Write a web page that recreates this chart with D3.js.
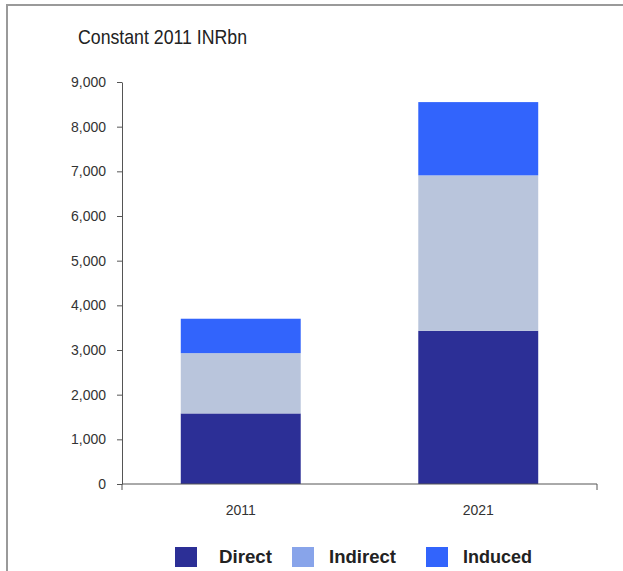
<!DOCTYPE html>
<html>
<head>
<meta charset="utf-8">
<script src="https://cdn.jsdelivr.net/npm/d3@7"></script>
<style>
  html, body { margin: 0; padding: 0; background: #fff; }
  svg { display: block; }
  text { font-family: "Liberation Sans", Arial, sans-serif; }
</style>
</head>
<body>
<script>
// Economic contribution, constant 2011 INR billion
const years = ["2011", "2021"];
const seriesNames = ["Direct", "Indirect", "Induced"];
const direct = [1580, 3430];
const indirect = [1350, 3480];
const induced = [770, 1640];
const yTicks = [0, 1000, 2000, 3000, 4000, 5000, 6000, 7000, 8000, 9000];

const barColors = { Direct: "#2c2f96", Indirect: "#b9c5dc", Induced: "#3264fc" };
const swatchColors = { Direct: "#2c2f96", Indirect: "#88a4ea", Induced: "#3264fc" };

const W = 623, H = 571;
const svg = d3.select("body").append("svg").attr("width", W).attr("height", H);

// frame lines (top and left)
svg.append("line").attr("x1", 7).attr("x2", W).attr("y1", 5).attr("y2", 5)
  .attr("stroke", "#9a9a9a").attr("stroke-width", 2);
svg.append("line").attr("x1", 7).attr("x2", 7).attr("y1", 4).attr("y2", H)
  .attr("stroke", "#9a9a9a").attr("stroke-width", 2);

svg.append("text").attr("x", 78).attr("y", 44)
  .attr("font-size", 21).attr("fill", "#222")
  .attr("textLength", 169).attr("lengthAdjust", "spacingAndGlyphs")
  .text("Constant 2011 INRbn");

const x = d3.scaleBand().domain(years).range([122, 597])
  .paddingInner(0.495).paddingOuter(0.2475);
const y = d3.scaleLinear().domain([0, 9000]).range([484, 82]);

const rows = years.map((yr, i) => ({ year: yr, Direct: direct[i], Indirect: indirect[i], Induced: induced[i] }));
const stacked = d3.stack().keys(seriesNames)(rows);

svg.append("g").selectAll("g").data(stacked).join("g")
  .attr("fill", d => barColors[d.key])
  .selectAll("rect").data(d => d).join("rect")
  .attr("x", d => x(d.data.year))
  .attr("width", x.bandwidth())
  .attr("y", d => y(d[1]))
  .attr("height", d => y(d[0]) - y(d[1]));

// y axis
const yAxis = svg.append("g").attr("transform", "translate(122,0)")
  .call(d3.axisLeft(y).tickValues(yTicks).tickSize(5).tickSizeOuter(0)
    .tickFormat(d3.format(",")));
yAxis.select(".domain").attr("stroke", "#555");
yAxis.selectAll(".tick line").attr("stroke", "#555");
yAxis.selectAll(".tick text").attr("font-size", 14).attr("fill", "#333")
  .attr("font-family", "Liberation Sans, Arial, sans-serif").attr("x", -16);

// x axis
const xAxisG = svg.append("g").attr("transform", "translate(0,484)");
xAxisG.append("line").attr("x1", 122).attr("x2", 597).attr("stroke", "#555");
const bounds = [122, 597];
xAxisG.selectAll("line.tk").data(bounds).join("line").attr("class", "tk")
  .attr("x1", d => d).attr("x2", d => d).attr("y1", 0).attr("y2", 6).attr("stroke", "#555");
xAxisG.selectAll("text").data(years).join("text")
  .attr("x", d => x(d) + x.bandwidth() / 2).attr("y", 31)
  .attr("text-anchor", "middle").attr("font-size", 14).attr("fill", "#333").text(d => d);

// legend
const legendX = [175, 292, 426];
const legendTextW = [53, 67, 69];
const lg = svg.append("g").selectAll("g").data(seriesNames).join("g")
  .attr("transform", (d, i) => `translate(${legendX[i]},547)`);
lg.append("rect").attr("width", 22).attr("height", 20).attr("fill", d => swatchColors[d]);
lg.append("text").attr("x", (d, i) => i === 0 ? 44 : 37).attr("y", 16).attr("font-size", 18)
  .attr("font-weight", "bold").attr("fill", "#222")
  .attr("textLength", (d, i) => legendTextW[i]).attr("lengthAdjust", "spacingAndGlyphs")
  .text(d => d);
</script>
</body>
</html>
